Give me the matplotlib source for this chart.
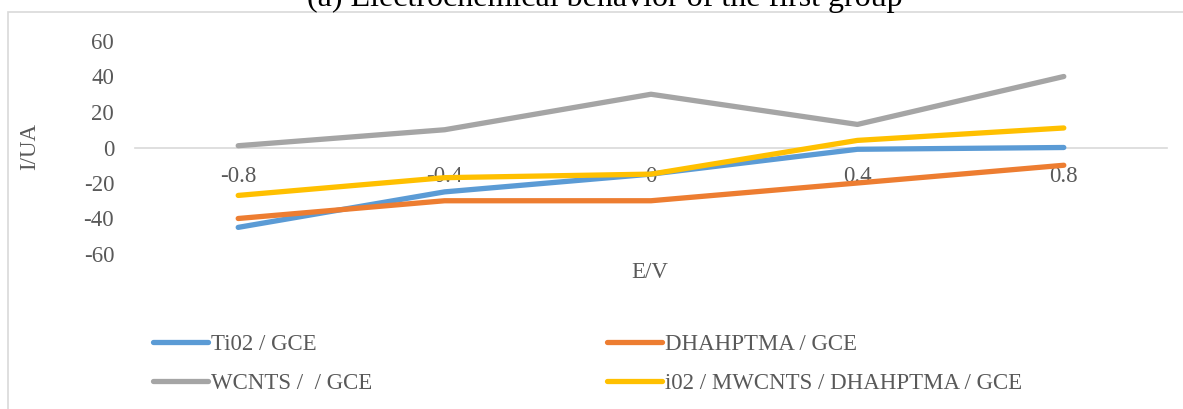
import matplotlib.pyplot as plt
from matplotlib.patches import Rectangle

# potential (V) categories and currents (uA)
potentials = ['-0.8', '-0.4', '0', '0.4', '0.8']
tio2_gce = [-45, -25, -15, -1, 0]
dhahptma_gce = [-40, -30, -30, -20, -10]
mwcnts_gce = [1, 10, 30, 13, 40]
tio2_mwcnts_dhahptma_gce = [-27, -17, -15, 4, 11]
labels = ['Ti02 / GCE', 'DHAHPTMA / GCE', 'WCNTS /  / GCE',
          'i02 / MWCNTS / DHAHPTMA / GCE']
y_ticks = [-60, -40, -20, 0, 20, 40, 60]

plt.rcParams['font.family'] = ['Liberation Serif', 'DejaVu Serif']
plt.rcParams['axes.unicode_minus'] = False

W, H = 1183, 409
fs = 16.5
grey_txt = '#595959'
fig = plt.figure(figsize=(W / 100, H / 100), dpi=100)

# light chart frame, clipped at right and bottom
fig.patches.append(Rectangle((8 / W, -0.1), 1.2, (H - 12) / H + 0.1,
                             transform=fig.transFigure, fill=False,
                             edgecolor='#d9d9d9', linewidth=1.2))

ax = fig.add_axes([135 / W, (H - 254) / H, (1167 - 135) / W, 213 / H])

x = range(len(potentials))
lw = 3.8
h1, = ax.plot(x, tio2_gce, color='#5B9BD5', lw=lw, solid_capstyle='round')
h2, = ax.plot(x, dhahptma_gce, color='#ED7D31', lw=lw, solid_capstyle='round')
h3, = ax.plot(x, mwcnts_gce, color='#A5A5A5', lw=lw, solid_capstyle='round')
h4, = ax.plot(x, tio2_mwcnts_dhahptma_gce, color='#FFC000', lw=lw,
              solid_capstyle='round')

ax.set_xlim(-0.5, len(potentials) - 0.5)
ax.set_ylim(-60, 60)
ax.set_yticks(y_ticks)
ax.set_xticks(list(x))
ax.set_xticklabels(potentials)

for s in ['top', 'right', 'left']:
    ax.spines[s].set_visible(False)
ax.spines['bottom'].set_position(('data', 0))
ax.spines['bottom'].set_color('#d9d9d9')
ax.spines['bottom'].set_linewidth(1.2)
ax.spines['bottom'].set_zorder(0)

ax.tick_params(axis='both', length=0, labelsize=fs, labelcolor=grey_txt)
ax.tick_params(axis='y', pad=15)
ax.tick_params(axis='x', pad=13)

fig.text(30 / W, (H - 147) / H, 'I/UA', rotation=90, ha='center', va='center',
         fontsize=fs, color=grey_txt)
fig.text(650 / W, (H - 272) / H, 'E/V', ha='center', va='center',
         fontsize=fs, color=grey_txt)
# the title sits partly above the top edge, as in the source image
fig.text(605 / W, 1 - 6 / H, '(a) Electrochemical behavior of the first group',
         ha='center', va='baseline', fontsize=23, color='black')

leg_kw = dict(loc='upper left', frameon=False, fontsize=fs, labelcolor=grey_txt,
              handlelength=2.4, handletextpad=0.15, labelspacing=0.8,
              borderpad=0, borderaxespad=0)
fig.legend([h1, h3], [labels[0], labels[2]],
           bbox_to_anchor=(153 / W, 1 - 334 / H), **leg_kw)
fig.legend([h2, h4], [labels[1], labels[3]],
           bbox_to_anchor=(607 / W, 1 - 334 / H), **leg_kw)

fig.savefig('out.png', dpi=100)
